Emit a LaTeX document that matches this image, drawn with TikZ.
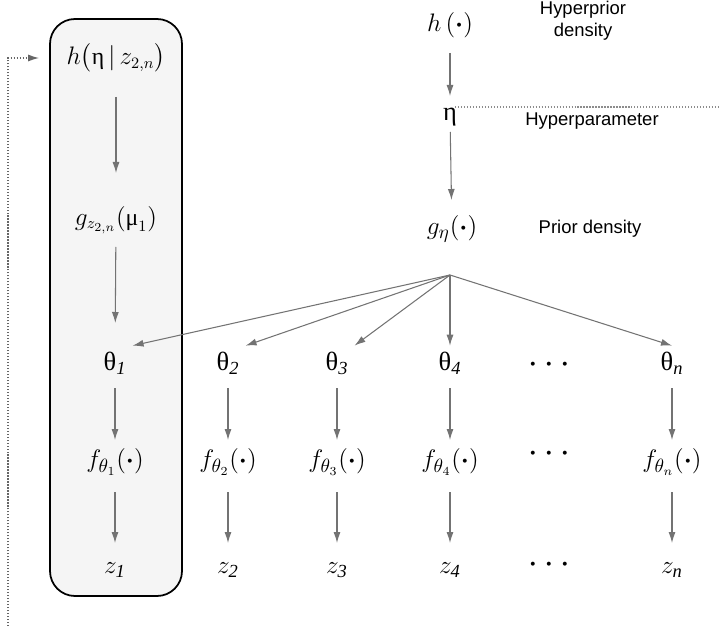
\documentclass[tikz,border=0pt]{standalone}
\usepackage{amsmath,amssymb}
\usepackage{fontspec}
\setmainfont{Liberation Serif}
\setsansfont{Liberation Sans}
\usetikzlibrary{arrows.meta}
\newcommand{\bdot}{\mathord{\boldsymbol{\cdot}}}

\begin{document}
\begin{tikzpicture}[every node/.style={font=\fontsize{15}{17}\selectfont}, >={Latex[length=2.2mm,width=1.4mm]},
	arr/.style={->, draw=black!55, line width=0.6pt},
	lab/.style={font=\fontsize{10.5}{12.5}\selectfont\sffamily, align=center},
	post/.style={font=\fontsize{13.5}{15}\selectfont},
	dotline/.style={draw=black!60, densely dotted, line width=0.7pt}]
	\useasboundingbox (0,0) rectangle (14.38,12.52);
	% box round the first unit
	\node[draw, line width=1pt, fill=black!4, rounded corners=0.5cm, minimum width=2.64cm, minimum height=11.54cm] (box) at (2.32,6.37) {};
	% top of the hierarchy
	\node (hprior) at (9.0,12.02) {$h\,(\bdot)$};
	\node (eta) at (9.0,10.18) {$\text{η}$};
	\node (geta) at (9.04,7.94) {$g_\eta(\bdot)$};
	\node[lab] (lhyp) at (11.66,12.10) {Hyperprior\\density};
	\node[lab] (lpar) at (11.84,10.10) {Hyperparameter};
	\node[lab] (lprior) at (11.80,7.94) {Prior density};
	\coordinate (sepL) at (9.1,10.38);
	\coordinate (sepR) at (14.38,10.38);
	\draw[dotline, draw=black!45] (sepL) -- (sepR);
	\draw[arr, shorten <=0.56cm, shorten >=0.42cm] (hprior.center) -- (eta.center);
	\draw[arr, shorten <=0.3cm, shorten >=0.58cm] (eta.center) -- (geta.center);
	% posterior side
	\node[post] (hpost) at (2.32,11.36) {$h\bigl(\text{η}\,|\,z_{2,n}\bigr)$};
	\node[post] (gpost) at (2.32,8.12) {$g_{z_{2,n}}(\text{μ}_1)$};
	% units
	\foreach \i/\x in {1/2.30, 2/4.56, 3/6.74, 4/9.00, n/13.44} {
		\node (t\i) at (\x,5.26) {$\text{θ}_{\mathit{\i}}$};
		\node (f\i) at (\x,3.28) {$f_{\theta_{\i}}(\bdot)$};
		\node (z\i) at (\x,1.12) {$z_{\mathit{\i}}$};
		\draw[arr, shorten <=0.5cm, shorten >=0.44cm] (t\i.center) -- (f\i.center);
		\draw[arr, shorten <=0.6cm, shorten >=0.54cm] (f\i.center) -- (z\i.center);
	}
	\foreach \r/\y in {t/5.22, f/3.44, z/1.22} {\node (dots\r) at (10.98,\y) {$\bdot\hspace{0.3em}\bdot\hspace{0.3em}\bdot$};}
	\draw[arr, shorten <=0.78cm, shorten >=0.94cm] (hpost.center) -- (gpost.center);
	\draw[arr, shorten <=0.54cm, shorten >=0.8cm] (gpost.center) -- (t1.center);
	% prior fans out to the units
	\coordinate (fan) at (9.0,7.02);
	\foreach \i in {1,2,3} {\draw[arr] (fan) -- (t\i.north east);}
	\draw[arr] (fan) -- (t4);
	\draw[arr] (fan) -- (tn.north);
	% feedback
	\coordinate (fbstart) at (0.16,0);
	\draw[dotline, ->] (fbstart) |- ([xshift=-0.2cm]box.west |- hpost);
\end{tikzpicture}
\end{document}
